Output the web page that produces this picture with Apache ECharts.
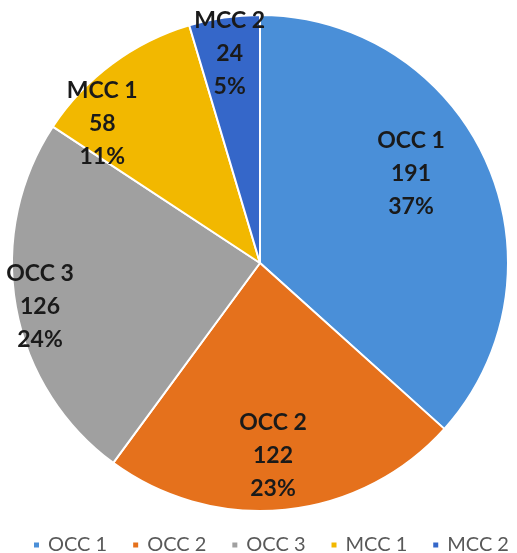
<!DOCTYPE html>
<html>
<head>
<meta charset="utf-8">
<script src="https://cdn.jsdelivr.net/npm/echarts@6/dist/echarts.min.js"></script>
<style>
html,body{margin:0;padding:0;background:#fff;}
#chart{width:517px;height:553px;}
</style>
</head>
<body>
<div id="chart"></div>
<script>
const categories = ['OCC 1', 'OCC 2', 'OCC 3', 'MCC 1', 'MCC 2'];
const values = [191, 122, 126, 58, 24];

const colors = ['#4A8FD8', '#E5711C', '#A0A0A0', '#F2B800', '#3567C9'];
// label nudges from the default inside position (style only)
const labelNudge = [[35, -38], [0, 66], [-95, 21], [-82, -37], [-12, -84]];

const chart = echarts.init(document.getElementById('chart'), null, {renderer: 'canvas'});
chart.setOption({
  animation: false,
  color: colors,
  legend: {
    data: categories,
    left: 32,
    top: 535,
    padding: 0,
    icon: 'rect',
    itemWidth: 7,
    itemHeight: 7,
    itemGap: 24,
    textStyle: {
      fontFamily: 'Lato',
      fontSize: 20,
      color: '#595959',
      padding: [0, 0, 0, 3],
      lineHeight: 20
    }
  },
  series: [{
    type: 'pie',
    center: [260, 263],
    radius: 248,
    startAngle: 90,
    clockwise: true,
    percentPrecision: 0,
    itemStyle: {borderColor: '#ffffff', borderWidth: 2},
    label: {
      show: true,
      position: 'inside',
      formatter: '{b}\n{c}\n{d}%',
      fontFamily: 'Lato',
      fontWeight: 'bold',
      fontSize: 23,
      lineHeight: 33,
      color: '#1a1a1a',
      align: 'center'
    },
    labelLine: {show: false},
    labelLayout: function (p) {
      const n = labelNudge[p.dataIndex];
      return {dx: n[0], dy: n[1]};
    },
    data: categories.map((c, i) => ({name: c, value: values[i]}))
  }]
});
</script>
</body>
</html>
